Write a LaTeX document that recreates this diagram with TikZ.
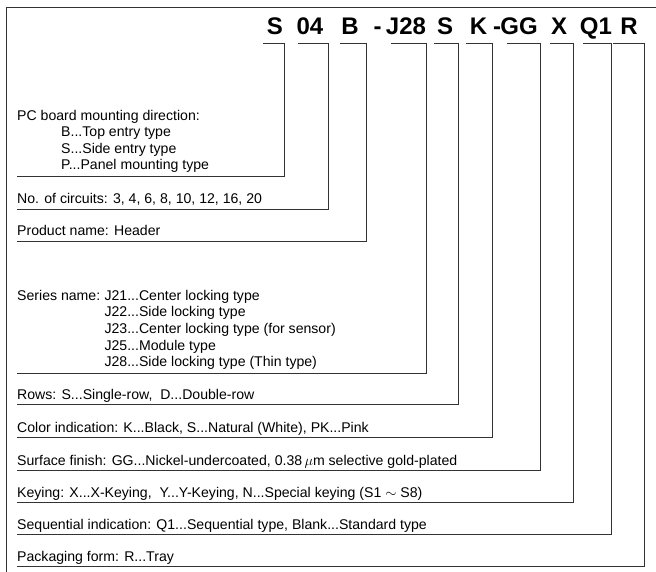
\documentclass[tikz,border=0pt]{standalone}
\usepackage{fontspec}
\setmainfont{Liberation Sans}
\begin{document}
\begin{tikzpicture}[x=1pt,y=-1pt,
  lbl/.style={anchor=base west, inner sep=0pt, font=\fontsize{14.1}{16}\selectfont},
  code/.style={anchor=base, inner sep=0pt, font=\fontsize{24}{28}\selectfont\bfseries},
  ln/.style={line width=0.9pt, draw=black!80}]
\useasboundingbox (0,0) rectangle (656,572);
% frame
\coordinate (fb) at (6,572);
\coordinate (fc) at (6,7.5);
\coordinate (fr) at (656,7.5);
\draw[ln] (fb) -- (fc) -- (fr);
% part number
\node[code] (c1) at (275,35) {S};
\node[code] (c2) at (310,35) {04};
\node[code] (c3) at (350,35) {B};
\node[code] (d1) at (377.5,35) {-};
\node[code] (c4) at (406,35) {J28};
\node[code] (c5) at (445,35) {S};
\node[code] (c6) at (478.5,35) {K};
\node[code] (d2) at (497,35) {-};
\node[code] (c7) at (519,35) {GG};
\node[code] (c8) at (559,35) {X};
\node[code] (c9) at (596,35) {Q1};
\node[code] (c10) at (629,35) {R};
% labels
\node[lbl] (l1) at (17,120.5) {PC board mounting direction:};
\node[lbl] (l1b) at (61,137) {B...Top entry type};
\node[lbl] (l1s) at (61,153.5) {S...Side entry type};
\node[lbl] (l1p) at (61,170) {P...Panel mounting type};
\node[lbl] (l2) at (17,204) {No. of circuits: 3, 4, 6, 8, 10, 12, 16, 20};
\node[lbl] (l3) at (17,236) {Product name: Header};
\node[lbl] (l4) at (17,300) {Series name:};
\node[lbl] (l4a) at ([xshift=3.9pt]l4.base east) {J21...Center locking type};
\node[lbl] (l4b) at ([yshift=-16.7pt]l4a.base west) {J22...Side locking type};
\node[lbl] (l4c) at ([yshift=-16.7pt]l4b.base west) {J23...Center locking type (for sensor)};
\node[lbl] (l4d) at ([yshift=-16.7pt]l4c.base west) {J25...Module type};
\node[lbl] (l4e) at ([yshift=-16.7pt]l4d.base west) {J28...Side locking type (Thin type)};
\node[lbl] (l5) at (17,399) {Rows: S...Single-row,\ \ D...Double-row};
\node[lbl] (l6) at (17,432) {Color indication: K...Black, S...Natural (White), PK...Pink};
\node[lbl] (l7) at (17,465) {Surface finish: GG...Nickel-undercoated, 0.38\,$\mu$m selective gold-plated};
\node[lbl] (l8) at (17,497) {Keying: X...X-Keying,\ \ Y...Y-Keying, N...Special keying (S1 $\sim$ S8)};
\node[lbl] (l9) at (17,529) {Sequential indication: Q1...Sequential type, Blank...Standard type};
\node[lbl] (l10) at (17,561) {Packaging form: R...Tray};
% brackets
\foreach \a/\b/\y [count=\i] in {263/284/176, 298/328/209, 340/366/241, 391/426/373, 434/458/404, 466/492/437, 507/540/470, 550/573/502, 583/611/534, 613/644/566}{
  \coordinate (k\i) at (\a,43);
  \coordinate (e\i) at (\b,43);
  \coordinate (u\i) at (17,\y);
  \draw[ln] (k\i) -- (e\i) |- (u\i);
}
\end{tikzpicture}
\end{document}
